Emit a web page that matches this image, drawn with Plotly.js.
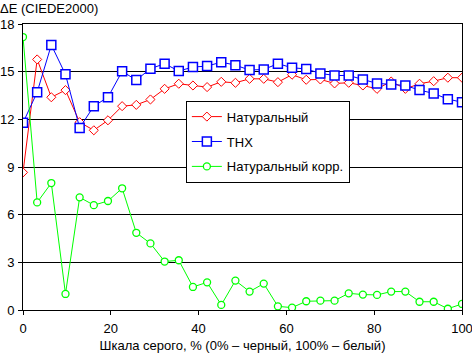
<!DOCTYPE html>
<html>
<head>
<meta charset="utf-8">
<script src="https://cdn.plot.ly/plotly-3.0.1.min.js"></script>
<style>html,body{margin:0;padding:0;background:#fff;}#chart{width:472px;height:353px;}</style>
</head>
<body>
<div id="chart"></div>
<script>
// 32 gray levels, 0..100 %
const grayLevels = Array.from({length: 32}, (_, i) => i * 100 / 31);

const naturalValues = [8.66, 15.77, 13.39, 13.84, 11.82, 11.31, 11.94, 12.83, 12.91, 13.25,
  13.92, 14.24, 14.13, 14.03, 14.36, 14.30, 14.55, 14.55, 14.34, 14.81,
  14.49, 14.51, 14.26, 14.30, 14.13, 13.92, 14.38, 13.92, 14.24, 14.40, 14.62, 14.62];

const thxValues = [11.78, 13.71, 16.68, 14.83, 11.46, 12.83, 13.39, 15.02, 14.47, 15.19,
  15.50, 15.04, 15.29, 15.35, 15.60, 15.41, 15.10, 15.14, 15.50, 15.25,
  15.17, 14.89, 14.76, 14.76, 14.51, 14.26, 14.20, 14.13, 13.84, 13.63, 13.27, 13.08];

const naturalCorrValues = [17.18, 6.77, 7.99, 1.01, 7.09, 6.60, 6.86, 7.66, 4.86, 4.19,
  3.05, 3.13, 1.45, 1.74, 0.32, 1.85, 1.16, 1.66, 0.23, 0.15,
  0.55, 0.59, 0.59, 1.05, 0.97, 0.95, 1.16, 1.16, 0.52, 0.52, 0.08, 0.38];

const seriesNames = ['Натуральный', 'THX', 'Натуральный корр.'];
const yTickValues = [0, 3, 6, 9, 12, 15, 18];
const xTickValues = [0, 20, 40, 60, 80, 100];

const FONT = 'Arial, "Liberation Sans", sans-serif';

const traces = [
  {
    x: grayLevels, y: naturalValues, name: seriesNames[0], legendgroup: 'a',
    type: 'scatter', mode: 'lines+markers',
    line: {color: '#FF0000', width: 1},
    marker: {symbol: 'diamond', size: 7, color: '#FFFFFF', line: {color: '#FF0000', width: 1}}
  },
  {
    x: grayLevels, y: thxValues, name: seriesNames[1], legendgroup: 'b',
    type: 'scatter', mode: 'lines+markers',
    line: {color: '#0000FF', width: 1},
    marker: {symbol: 'square', size: 9, color: '#FFFFFF', line: {color: '#0000FF', width: 1.5}}
  },
  {
    x: grayLevels, y: naturalCorrValues, name: seriesNames[2], legendgroup: 'c',
    type: 'scatter', mode: 'lines+markers',
    line: {color: '#00FF00', width: 1},
    marker: {symbol: 'circle', size: 7, color: '#FFFFFF', line: {color: '#00FF00', width: 1.3}}
  }
];

const layout = {
  width: 472, height: 353,
  margin: {l: 23, r: 10, t: 24, b: 43},
  paper_bgcolor: '#FFFFFF', plot_bgcolor: '#FFFFFF',
  font: {family: FONT, size: 13, color: '#000000'},
  showlegend: true,
  title: {
    text: 'ΔE (CIEDE2000)', x: 0, xref: 'container', xanchor: 'left',
    y: 1 - 8 / 353, yref: 'container', yanchor: 'middle',
    font: {family: FONT, size: 13, color: '#000000'}, pad: {l: 0, t: 0, r: 0, b: 0}
  },
  xaxis: {
    range: [0, 100], tickvals: xTickValues, ticktext: xTickValues.map(String),
    showgrid: false, zeroline: false,
    showline: true, linecolor: '#000000', linewidth: 1, mirror: true,
    ticks: 'outside', ticklen: 4, tickcolor: '#000000', tickwidth: 1,
    ticklabelstandoff: 2, ticklabeloverflow: 'allow',
    title: {text: 'Шкала серого, % (0% – черный, 100% – белый)', standoff: 6,
      font: {family: FONT, size: 13, color: '#000000'}},
    fixedrange: true
  },
  yaxis: {
    range: [0, 18], tickvals: yTickValues, ticktext: yTickValues.map(String),
    showgrid: true, gridcolor: '#000000', gridwidth: 1, zeroline: false,
    showline: true, linecolor: '#000000', linewidth: 1, mirror: true,
    ticks: 'outside', ticklen: 4, tickcolor: '#000000', tickwidth: 1,
    ticklabelstandoff: 1, ticklabeloverflow: 'allow',
    fixedrange: true
  },
  legend: {
    x: 0.371, y: 0.732, xanchor: 'left', yanchor: 'top',
    bgcolor: '#FFFFFF', bordercolor: '#000000', borderwidth: 1,
    traceorder: 'grouped', tracegroupgap: 5,
    font: {family: FONT, size: 13, color: '#000000'}
  }
};

Plotly.newPlot('chart', traces, layout, {staticPlot: true, displayModeBar: false});
</script>
</body>
</html>
